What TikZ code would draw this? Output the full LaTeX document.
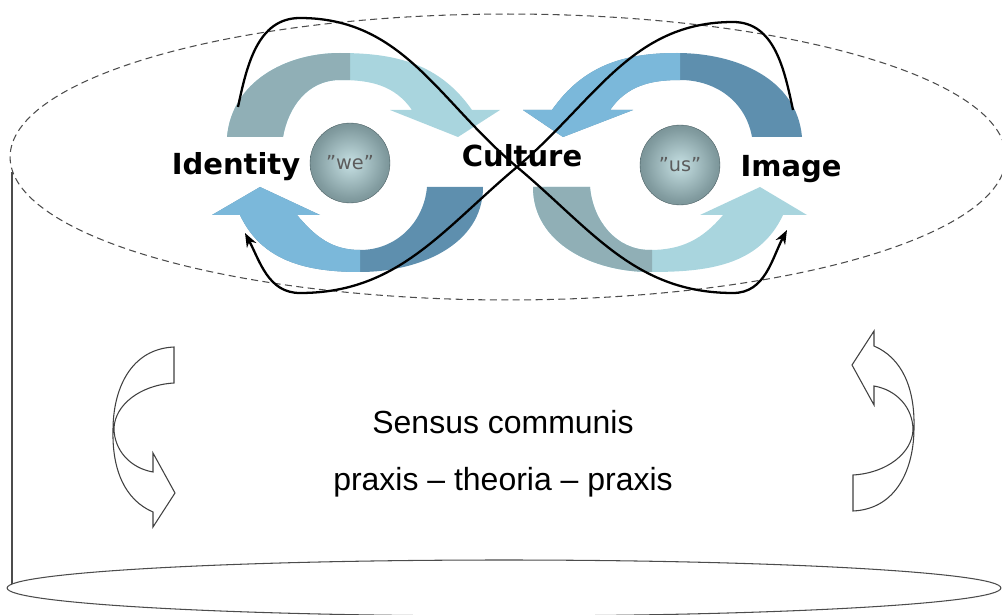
\documentclass[tikz,border=0pt]{standalone}
\usepackage{fontspec}
\setmainfont{Liberation Sans}
\newfontfamily\verdfont{DejaVu Sans}
\usetikzlibrary{arrows.meta, positioning}

\definecolor{graybl}{HTML}{90AFB6}
\definecolor{lightbl}{HTML}{A9D5DE}
\definecolor{skybl}{HTML}{7BB8DA}
\definecolor{steelbl}{HTML}{5E8FAE}
\definecolor{sphlight}{HTML}{C6E0E3}
\definecolor{sphmid}{HTML}{829CA0}
\definecolor{sphdark}{HTML}{455A5E}
\definecolor{quotegray}{HTML}{5C5C5C}

\pgfdeclareradialshading{sphere}{\pgfpoint{0bp}{0bp}}{color(0bp)=(sphlight); color(22bp)=(sphmid); color(50bp)=(sphdark)}

\tikzset{
    lbl/.style = {font=\verdfont\bfseries\fontsize{16.5}{20}\selectfont, inner sep=0pt, anchor=base},
    sens/.style = {font=\fontsize{18.2}{22}\selectfont, inner sep=0pt, anchor=base},
    ball/.style = {circle, minimum size=1.6cm, shading=sphere, draw=sphdark, very thin,
                   font=\verdfont\fontsize{11}{13}\selectfont, text=quotegray},
    loopline/.style = {line width=1.3pt, -{Stealth[length=8pt,width=6pt]}},
    sidearrow/.style = {draw=black!75, line width=0.6pt, fill=white},
    rim/.style = {draw=black!70, line width=0.6pt},
    capline/.style = {draw=black!70, line width=0.6pt, dash pattern=on 4pt off 2.5pt}
}

% band shapes of the two loops (pixel coordinates, y downwards)
\newcommand{\bandLtop}{(227,137) to[out=85,in=180] (340,53) to[out=0,in=125] (472,110)
  -- (500,110) -- (458,137) -- (390,110) -- (412,110)
  to[out=125,in=0] (340,80) to[out=180,in=80] (283,137) -- cycle}
\newcommand{\bandLbot}{(483,187) to[out=-90,in=0] (360,272) to[out=180,in=-65] (240,215)
  -- (212,215) -- (260,187) -- (320,215) -- (297,215)
  to[out=-50,in=180] (360,250) to[out=0,in=-95] (427,187) -- cycle}
\newcommand{\bandRtop}{(802,137) to[out=95,in=0] (677,53) to[out=180,in=55] (552,110)
  -- (523,110) -- (563,137) -- (633,110) -- (610,110)
  to[out=55,in=180] (680,80) to[out=0,in=100] (752,137) -- cycle}
\newcommand{\bandRbot}{(533,187) to[out=-90,in=180] (650,272) to[out=0,in=-115] (783,215)
  -- (807,215) -- (760,187) -- (700,215) -- (723,215)
  to[out=-130,in=0] (650,250) to[out=180,in=-85] (590,187) -- cycle}
\newcommand{\sidepath}{(30,-90) -- (30,-54) .. controls (-4,-52) and (-29,-32) .. (-30,-9)
  .. controls (-30,13) and (-14,31) .. (9,35) -- (9,16) -- (31,56) -- (9,90) -- (9,75)
  .. controls (-19,63) and (-32,33) .. (-31,-7) .. controls (-31,-47) and (-14,-88) .. (30,-90) -- cycle}

\begin{document}
\begin{tikzpicture}[x=0.02cm, y=-0.02cm]
\useasboundingbox (0,0) rectangle (1002,615);

% cylinder
\draw[capline] (508,157) ellipse [x radius=9.96cm, y radius=2.86cm];
\draw[rim] (504,588) ellipse [x radius=9.94cm, y radius=0.56cm];
\coordinate (wtop) at (12,172);
\coordinate (wbot) at (12,584);
\draw[rim] (wtop) -- (wbot);

% loops
\fill[lightbl] \bandLtop;
\begin{scope}
  \clip (0,0) rectangle (350,615);
  \fill[graybl] \bandLtop;
\end{scope}
\fill[steelbl] \bandLbot;
\begin{scope}
  \clip (0,0) rectangle (360,615);
  \fill[skybl] \bandLbot;
\end{scope}
\fill[steelbl] \bandRtop;
\begin{scope}
  \clip (0,0) rectangle (680,615);
  \fill[skybl] \bandRtop;
\end{scope}
\fill[lightbl] \bandRbot;
\begin{scope}
  \clip (0,0) rectangle (652,615);
  \fill[graybl] \bandRbot;
\end{scope}

\node[ball] (we) at (350,163) {”we”};
\node[ball] (us) at (680,165) {”us”};

\node[lbl] (identity) at (236,175) {Identity};
\node[lbl] (culture) at (522,167) {Culture};
\node[lbl] (image) at (791,177) {Image};

% side arrows
\draw[sidearrow, shift={(144,437)}] \sidepath;
\draw[sidearrow, shift={(883,421)}, rotate=180] \sidepath;

\node[sens] (sensus) at (503,433) {Sensus communis};
\node[sens] (praxis) at (503,490) {praxis – theoria – praxis};

% figure eight
\coordinate (s1) at (238,107);
\coordinate (p1) at (300,18);
\coordinate (x) at (517,167);
\coordinate (b1) at (733,293);
\coordinate (e1) at (787,230);
\coordinate (s2) at (793,110);
\coordinate (p2) at (733,22);
\coordinate (b2) at (300,293);
\coordinate (e2) at (245,233);
\draw[loopline] (s1) to[out=78,in=180] (p1) to[out=0,in=140] (x)
  to[out=-40,in=180] (b1) to[out=0,in=-118] (e1);
\draw[loopline] (s2) to[out=102,in=0] (p2) to[out=180,in=40] (x)
  to[out=-140,in=0] (b2) to[out=180,in=-62] (e2);
\end{tikzpicture}
\end{document}
